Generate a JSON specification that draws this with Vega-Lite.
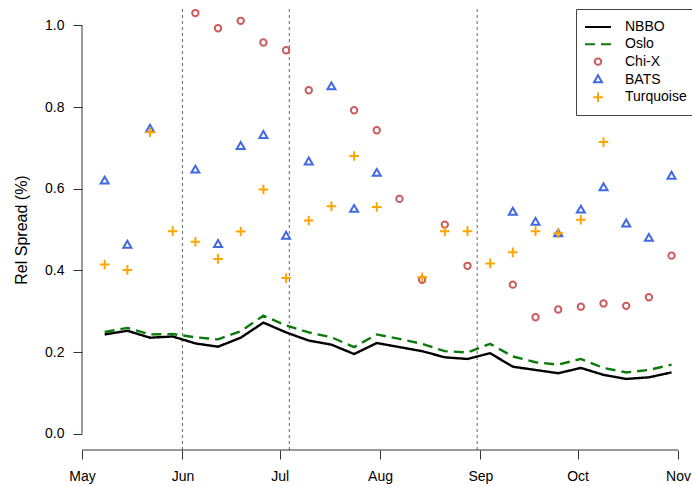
{
  "$schema": "https://vega.github.io/schema/vega-lite/v6.json",
  "width": 610,
  "height": 441,
  "autosize": {"type": "none"},
  "padding": {"left": 82, "top": 9, "right": 0, "bottom": 37},
  "background": "white",
  "config": {
    "view": {"stroke": null},
    "font": "Liberation Sans",
    "axis": {"grid": false, "domain": false, "labelFont": "Liberation Sans", "labelFontSize": 14, "labelColor": "#000", "tickColor": "#333", "tickSize": 9, "titleFont": "Liberation Sans", "titleFontSize": 16, "titleFontWeight": "normal", "titleColor": "#000"},
    "legend": {"orient": "none", "legendX": 494, "legendY": 0, "padding": 9, "strokeColor": "#444", "strokeWidth": 1, "fillColor": "white", "labelFont": "Liberation Sans", "labelFontSize": 14, "labelColor": "#000", "symbolSize": 256, "symbolStrokeWidth": 2, "symbolOffset": 4, "labelOffset": 18, "rowPadding": 1.3, "cornerRadius": 0}
  },
  "datasets": {
    "spread": [
      {"d": "2012-05-08", "s": "NBBO", "v": 0.243}, {"d": "2012-05-15", "s": "NBBO", "v": 0.252}, {"d": "2012-05-22", "s": "NBBO", "v": 0.235}, {"d": "2012-05-29", "s": "NBBO", "v": 0.238}, {"d": "2012-06-05", "s": "NBBO", "v": 0.221}, {"d": "2012-06-12", "s": "NBBO", "v": 0.213}, {"d": "2012-06-19", "s": "NBBO", "v": 0.235}, {"d": "2012-06-26", "s": "NBBO", "v": 0.272}, {"d": "2012-07-03", "s": "NBBO", "v": 0.248}, {"d": "2012-07-10", "s": "NBBO", "v": 0.228}, {"d": "2012-07-17", "s": "NBBO", "v": 0.218}, {"d": "2012-07-24", "s": "NBBO", "v": 0.195}, {"d": "2012-07-31", "s": "NBBO", "v": 0.222}, {"d": "2012-08-07", "s": "NBBO", "v": 0.212}, {"d": "2012-08-14", "s": "NBBO", "v": 0.202}, {"d": "2012-08-21", "s": "NBBO", "v": 0.187}, {"d": "2012-08-28", "s": "NBBO", "v": 0.183}, {"d": "2012-09-04", "s": "NBBO", "v": 0.197}, {"d": "2012-09-11", "s": "NBBO", "v": 0.164}, {"d": "2012-09-18", "s": "NBBO", "v": 0.156}, {"d": "2012-09-25", "s": "NBBO", "v": 0.148}, {"d": "2012-10-02", "s": "NBBO", "v": 0.161}, {"d": "2012-10-09", "s": "NBBO", "v": 0.144}, {"d": "2012-10-16", "s": "NBBO", "v": 0.134}, {"d": "2012-10-23", "s": "NBBO", "v": 0.138}, {"d": "2012-10-30", "s": "NBBO", "v": 0.150},
      {"d": "2012-05-08", "s": "Oslo", "v": 0.249}, {"d": "2012-05-15", "s": "Oslo", "v": 0.259}, {"d": "2012-05-22", "s": "Oslo", "v": 0.243}, {"d": "2012-05-29", "s": "Oslo", "v": 0.244}, {"d": "2012-06-05", "s": "Oslo", "v": 0.236}, {"d": "2012-06-12", "s": "Oslo", "v": 0.231}, {"d": "2012-06-19", "s": "Oslo", "v": 0.251}, {"d": "2012-06-26", "s": "Oslo", "v": 0.289}, {"d": "2012-07-03", "s": "Oslo", "v": 0.265}, {"d": "2012-07-10", "s": "Oslo", "v": 0.248}, {"d": "2012-07-17", "s": "Oslo", "v": 0.236}, {"d": "2012-07-24", "s": "Oslo", "v": 0.212}, {"d": "2012-07-31", "s": "Oslo", "v": 0.243}, {"d": "2012-08-07", "s": "Oslo", "v": 0.232}, {"d": "2012-08-14", "s": "Oslo", "v": 0.220}, {"d": "2012-08-21", "s": "Oslo", "v": 0.202}, {"d": "2012-08-28", "s": "Oslo", "v": 0.199}, {"d": "2012-09-04", "s": "Oslo", "v": 0.220}, {"d": "2012-09-11", "s": "Oslo", "v": 0.189}, {"d": "2012-09-18", "s": "Oslo", "v": 0.175}, {"d": "2012-09-25", "s": "Oslo", "v": 0.169}, {"d": "2012-10-02", "s": "Oslo", "v": 0.183}, {"d": "2012-10-09", "s": "Oslo", "v": 0.161}, {"d": "2012-10-16", "s": "Oslo", "v": 0.150}, {"d": "2012-10-23", "s": "Oslo", "v": 0.156}, {"d": "2012-10-30", "s": "Oslo", "v": 0.169},
      {"d": "2012-06-05", "s": "Chi-X", "v": 1.030}, {"d": "2012-06-12", "s": "Chi-X", "v": 0.993}, {"d": "2012-06-19", "s": "Chi-X", "v": 1.011}, {"d": "2012-06-26", "s": "Chi-X", "v": 0.958}, {"d": "2012-07-03", "s": "Chi-X", "v": 0.939}, {"d": "2012-07-10", "s": "Chi-X", "v": 0.841}, {"d": "2012-07-24", "s": "Chi-X", "v": 0.792}, {"d": "2012-07-31", "s": "Chi-X", "v": 0.743}, {"d": "2012-08-07", "s": "Chi-X", "v": 0.575}, {"d": "2012-08-14", "s": "Chi-X", "v": 0.377}, {"d": "2012-08-21", "s": "Chi-X", "v": 0.512}, {"d": "2012-08-28", "s": "Chi-X", "v": 0.411}, {"d": "2012-09-11", "s": "Chi-X", "v": 0.365}, {"d": "2012-09-18", "s": "Chi-X", "v": 0.285}, {"d": "2012-09-25", "s": "Chi-X", "v": 0.304}, {"d": "2012-10-02", "s": "Chi-X", "v": 0.311}, {"d": "2012-10-09", "s": "Chi-X", "v": 0.319}, {"d": "2012-10-16", "s": "Chi-X", "v": 0.313}, {"d": "2012-10-23", "s": "Chi-X", "v": 0.334}, {"d": "2012-10-30", "s": "Chi-X", "v": 0.436},
      {"d": "2012-05-08", "s": "BATS", "v": 0.618}, {"d": "2012-05-15", "s": "BATS", "v": 0.461}, {"d": "2012-05-22", "s": "BATS", "v": 0.745}, {"d": "2012-06-05", "s": "BATS", "v": 0.645}, {"d": "2012-06-12", "s": "BATS", "v": 0.463}, {"d": "2012-06-19", "s": "BATS", "v": 0.703}, {"d": "2012-06-26", "s": "BATS", "v": 0.730}, {"d": "2012-07-03", "s": "BATS", "v": 0.483}, {"d": "2012-07-10", "s": "BATS", "v": 0.665}, {"d": "2012-07-17", "s": "BATS", "v": 0.849}, {"d": "2012-07-24", "s": "BATS", "v": 0.549}, {"d": "2012-07-31", "s": "BATS", "v": 0.637}, {"d": "2012-09-11", "s": "BATS", "v": 0.542}, {"d": "2012-09-18", "s": "BATS", "v": 0.517}, {"d": "2012-09-25", "s": "BATS", "v": 0.489}, {"d": "2012-10-02", "s": "BATS", "v": 0.547}, {"d": "2012-10-09", "s": "BATS", "v": 0.602}, {"d": "2012-10-16", "s": "BATS", "v": 0.513}, {"d": "2012-10-23", "s": "BATS", "v": 0.478}, {"d": "2012-10-30", "s": "BATS", "v": 0.630},
      {"d": "2012-05-08", "s": "Turquoise", "v": 0.414}, {"d": "2012-05-15", "s": "Turquoise", "v": 0.401}, {"d": "2012-05-22", "s": "Turquoise", "v": 0.738}, {"d": "2012-05-29", "s": "Turquoise", "v": 0.496}, {"d": "2012-06-05", "s": "Turquoise", "v": 0.470}, {"d": "2012-06-12", "s": "Turquoise", "v": 0.428}, {"d": "2012-06-19", "s": "Turquoise", "v": 0.495}, {"d": "2012-06-26", "s": "Turquoise", "v": 0.598}, {"d": "2012-07-03", "s": "Turquoise", "v": 0.381}, {"d": "2012-07-10", "s": "Turquoise", "v": 0.522}, {"d": "2012-07-17", "s": "Turquoise", "v": 0.557}, {"d": "2012-07-24", "s": "Turquoise", "v": 0.680}, {"d": "2012-07-31", "s": "Turquoise", "v": 0.555}, {"d": "2012-08-14", "s": "Turquoise", "v": 0.383}, {"d": "2012-08-21", "s": "Turquoise", "v": 0.496}, {"d": "2012-08-28", "s": "Turquoise", "v": 0.496}, {"d": "2012-09-04", "s": "Turquoise", "v": 0.417}, {"d": "2012-09-11", "s": "Turquoise", "v": 0.444}, {"d": "2012-09-18", "s": "Turquoise", "v": 0.496}, {"d": "2012-09-25", "s": "Turquoise", "v": 0.491}, {"d": "2012-10-02", "s": "Turquoise", "v": 0.524}, {"d": "2012-10-09", "s": "Turquoise", "v": 0.714}
    ],
    "vlines": [{"d": "2012-06-01"}, {"d": "2012-07-04"}, {"d": "2012-08-31"}]
  },
  "layer": [
    {
      "data": {"name": "vlines"},
      "mark": {"type": "rule", "stroke": "#666", "strokeWidth": 1, "strokeDash": [3, 3]},
      "encoding": {
        "x": {"field": "d", "type": "temporal", "title": null}
      }
    },
    {
      "data": {"values": [{}]},
      "mark": {"type": "rule", "stroke": "#333", "strokeWidth": 1},
      "encoding": {
        "x": {"datum": {"year": 2012, "month": 5, "date": 1, "utc": true}, "type": "temporal", "title": null},
        "y": {"datum": 0, "type": "quantitative", "title": "Rel Spread (%)"},
        "y2": {"datum": 1}
      }
    },
    {
      "data": {"values": [{}]},
      "mark": {"type": "rule", "stroke": "#333", "strokeWidth": 1},
      "encoding": {
        "x": {"datum": {"year": 2012, "month": 5, "date": 1, "utc": true}, "type": "temporal", "title": null},
        "x2": {"datum": {"year": 2012, "month": 11, "date": 1, "utc": true}},
        "y": {"datum": -0.04, "type": "quantitative", "title": "Rel Spread (%)"}
      }
    },
    {
      "data": {"name": "spread"},
      "transform": [{"filter": "datum.s === 'NBBO' || datum.s === 'Oslo'"}],
      "mark": {"type": "line", "strokeWidth": 2.4},
      "encoding": {
        "x": {"field": "d", "type": "temporal", "title": null,
          "scale": {"type": "utc", "domain": [{"year": 2012, "month": 5, "date": 1, "utc": true}, {"year": 2012, "month": 11, "date": 5, "hours": 7, "minutes": 30, "utc": true}]},
          "axis": {"title": null, "format": "%b", "labelFlush": false, "labelOverlap": false, "labelPadding": 10,
            "values": [{"year": 2012, "month": 5, "date": 1, "utc": true}, {"year": 2012, "month": 6, "date": 1, "utc": true}, {"year": 2012, "month": 7, "date": 1, "utc": true}, {"year": 2012, "month": 8, "date": 1, "utc": true}, {"year": 2012, "month": 9, "date": 1, "utc": true}, {"year": 2012, "month": 10, "date": 1, "utc": true}, {"year": 2012, "month": 11, "date": 1, "utc": true}]}},
        "y": {"field": "v", "type": "quantitative", "title": "Rel Spread (%)",
          "scale": {"domain": [-0.04, 1.04], "nice": false, "zero": false},
          "axis": {"title": "Rel Spread (%)", "values": [0, 0.2, 0.4, 0.6, 0.8, 1.0], "format": ".1f", "labelPadding": 9, "titlePadding": 15}},
        "color": {"field": "s", "type": "nominal", "title": null,
          "scale": {"domain": ["NBBO", "Oslo", "Chi-X", "BATS", "Turquoise"], "range": ["#000000", "#0a7a0a", "#cd5c5c", "#4169e1", "#ffa500"]}},
        "strokeDash": {"field": "s", "type": "nominal", "title": null,
          "scale": {"domain": ["NBBO", "Oslo", "Chi-X", "BATS", "Turquoise"], "range": [[1, 0], [10, 6], [1, 0], [1, 0], [1, 0]]}}
      }
    },
    {
      "data": {"name": "spread"},
      "transform": [{"filter": "datum.s !== 'NBBO' && datum.s !== 'Oslo'"}],
      "mark": {"type": "point", "filled": false, "strokeWidth": 2, "size": 256, "opacity": 1},
      "encoding": {
        "x": {"field": "d", "type": "temporal", "title": null},
        "y": {"field": "v", "type": "quantitative", "title": "Rel Spread (%)"},
        "color": {"field": "s", "type": "nominal", "title": null},
        "shape": {"field": "s", "type": "nominal", "title": null,
          "scale": {"domain": ["NBBO", "Oslo", "Chi-X", "BATS", "Turquoise"], "range": ["M-1.625,0H1.625", "M-1.625,0H1.625", "M-0.4,0A0.4,0.4 0 1,0 0.4,0A0.4,0.4 0 1,0 -0.4,0Z", "M0,-0.575L0.498,0.2875L-0.498,0.2875Z", "M-0.6,0H0.6M0,-0.6V0.6"]}}
      }
    }
  ]
}
